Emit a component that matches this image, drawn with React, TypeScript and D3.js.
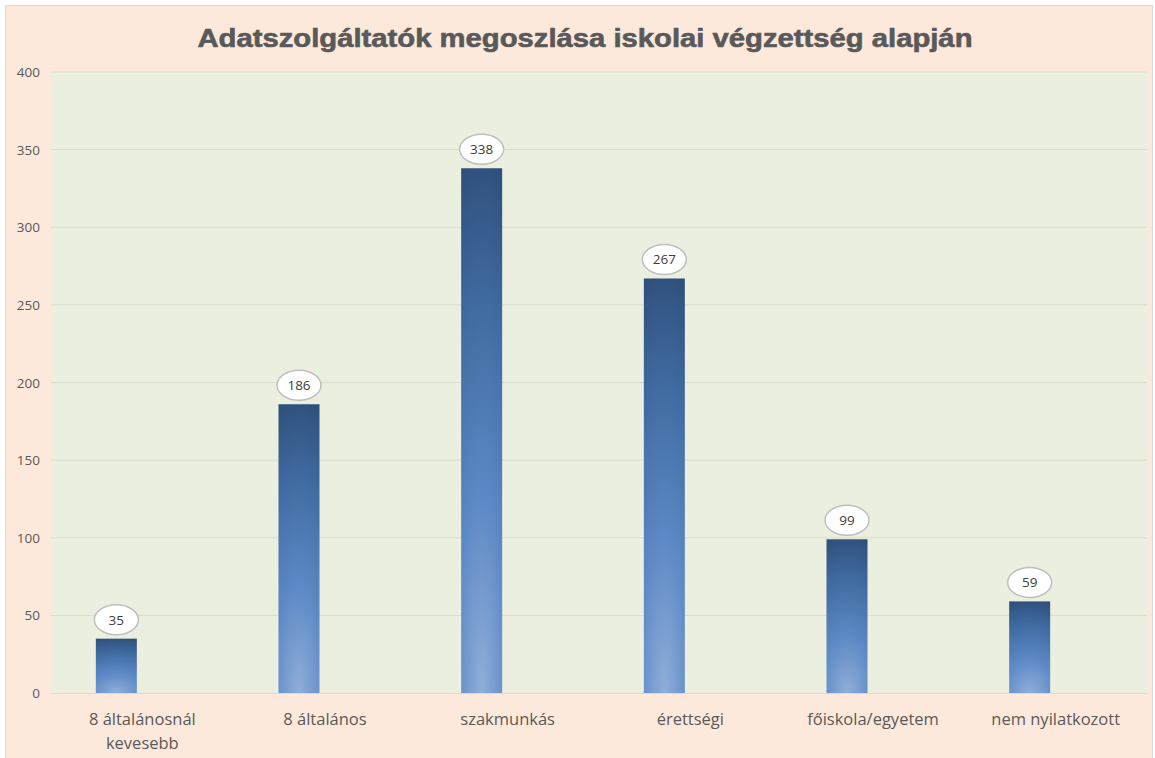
import React from "react";
import * as d3 from "d3";

const title = "Adatszolgáltatók megoszlása iskolai végzettség alapján";
const categories = [
  ["8 általánosnál", "kevesebb"],
  ["8 általános"],
  ["szakmunkás"],
  ["érettségi"],
  ["főiskola/egyetem"],
  ["nem nyilatkozott"],
];
const values = [35, 186, 338, 267, 99, 59];
const yTicks = [0, 50, 100, 150, 200, 250, 300, 350, 400];

const W = 1155;
const H = 758;
const plot = { left: 51, right: 1147, top: 72, bottom: 693 };

export default function App() {
  const x = d3
    .scaleBand<number>()
    .domain(values.map((_, i) => i))
    .range([plot.left, plot.right])
    .padding(0);
  const y = d3.scaleLinear().domain([0, 400]).range([plot.bottom, plot.top]);
  const barW = 41;
  const barOffset = -46.5;

  return (
    <svg
      width={W}
      height={H}
      style={{ position: "absolute", left: 0, top: 0 }}
      xmlns="http://www.w3.org/2000/svg"
    >
      <defs>
        <radialGradient
          id="barFill"
          cx="0.5"
          cy="1"
          r="1.08"
          fx="0.5"
          fy="1"
          gradientTransform="translate(0.5,1) scale(1.8,1) translate(-0.5,-1)"
        >
          <stop offset="0" stopColor="#90AED9" />
          <stop offset="0.35" stopColor="#5C88C5" />
          <stop offset="0.7" stopColor="#3F6AA0" />
          <stop offset="1" stopColor="#2C4A74" />
        </radialGradient>
      </defs>
      <rect x={0} y={0} width={W} height={H} fill="#FFFFFF" />
      <rect
        x={5.5}
        y={5.5}
        width={1147}
        height={760}
        fill="#FDE9DB"
        stroke="#D9D9D9"
        strokeWidth={1}
      />
      <text
        x={585}
        y={47}
        textAnchor="middle"
        fontFamily="'Liberation Sans', Arial, sans-serif"
        fontWeight="bold"
        fontSize={25}
        fill="#595959"
        textLength={775}
        lengthAdjust="spacingAndGlyphs"
        stroke="#595959"
        strokeWidth={0.6}
      >
        {title}
      </text>
      <rect
        x={plot.left}
        y={plot.top}
        width={plot.right - plot.left}
        height={plot.bottom - plot.top}
        fill="#EBEFDF"
      />
      {yTicks.map((t) => (
        <g key={t}>
          {t > 0 && (
            <line
              x1={plot.left}
              x2={plot.right}
              y1={y(t)}
              y2={y(t)}
              stroke="#D8DCCB"
              strokeWidth={1}
            />
          )}
          <text
            x={40}
            y={y(t) + 5}
            textAnchor="end"
            fontFamily="'Open Sans', sans-serif"
            fontSize={13.5}
            fill="#595959"
          >
            {t}
          </text>
        </g>
      ))}
      <line
        x1={plot.left}
        x2={plot.right}
        y1={plot.bottom + 0.5}
        y2={plot.bottom + 0.5}
        stroke="#D9D9D9"
        strokeWidth={1}
      />
      {values.map((v, i) => {
        const bx = (x(i) as number) + x.bandwidth() / 2 + barOffset;
        const by = y(v);
        const bh = plot.bottom - by;
        const cx = bx + barW / 2;
        return (
          <g key={i}>
            <rect x={bx} y={by} width={barW} height={bh} fill="url(#barFill)" />
            <ellipse
              cx={cx}
              cy={by - 19}
              rx={22}
              ry={15}
              fill="#FFFFFF"
              stroke="#BFBFBF"
              strokeWidth={1.5}
            />
            <text
              x={cx}
              y={by - 14}
              textAnchor="middle"
              fontFamily="'Open Sans', sans-serif"
              fontSize={13.5}
              fill="#404040"
            >
              {v}
            </text>
          </g>
        );
      })}
      {categories.map((lines, i) => {
        const cx = (x(i) as number) + x.bandwidth() / 2;
        return (
          <text
            key={i}
            textAnchor="middle"
            fontFamily="'Open Sans', sans-serif"
            fontSize={16.5}
            fill="#595959"
          >
            {lines.map((l, j) => (
              <tspan key={j} x={cx} y={725 + j * 24}>
                {l}
              </tspan>
            ))}
          </text>
        );
      })}
    </svg>
  );
}
